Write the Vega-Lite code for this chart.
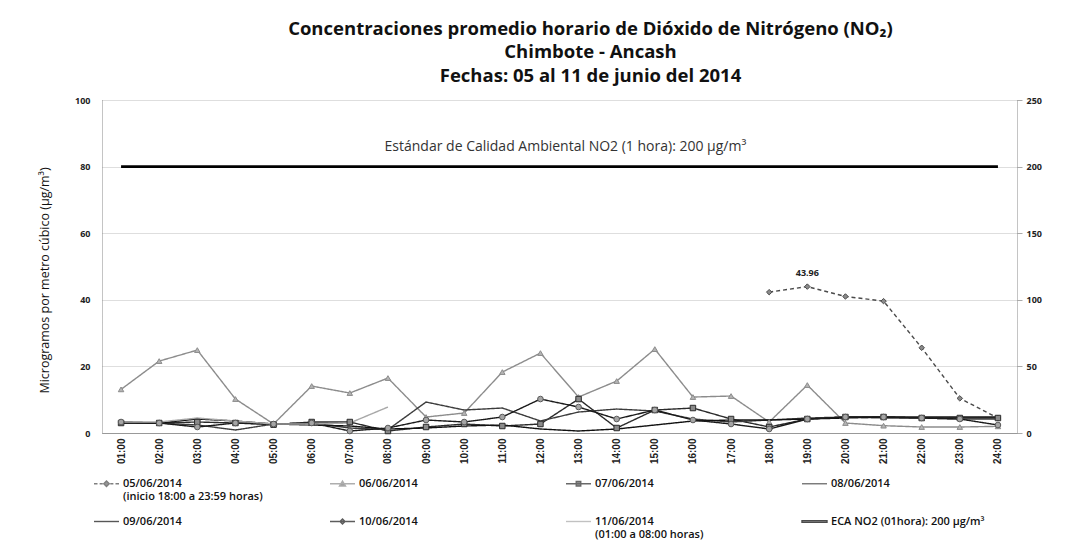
{
  "$schema": "https://vega.github.io/schema/vega-lite/v6.json",
  "autosize": {"type": "none"},
  "padding": {"left": 102, "top": 100, "right": 69, "bottom": 111},
  "width": 915,
  "height": 333,
  "background": "white",
  "config": {"view": {"stroke": null}, "font": "Open Sans"},
  "title": {
    "text": ["Concentraciones promedio horario de Dióxido de Nitrógeno (NO₂)", "Chimbote - Ancash", "Fechas: 05 al 11 de junio del 2014"],
    "anchor": "middle", "dx": 31, "font": "Open Sans", "fontSize": 18.5, "fontWeight": "bold", "lineHeight": 23.5, "offset": 11, "color": "#111"
  },
  "datasets": {
    "main": [
      {"h": "18:00", "s": "05/06/2014|(inicio 18:00 a 23:59 horas)", "v": 42.3},
      {"h": "19:00", "s": "05/06/2014|(inicio 18:00 a 23:59 horas)", "v": 43.96},
      {"h": "20:00", "s": "05/06/2014|(inicio 18:00 a 23:59 horas)", "v": 41.0},
      {"h": "21:00", "s": "05/06/2014|(inicio 18:00 a 23:59 horas)", "v": 39.6},
      {"h": "22:00", "s": "05/06/2014|(inicio 18:00 a 23:59 horas)", "v": 25.6},
      {"h": "23:00", "s": "05/06/2014|(inicio 18:00 a 23:59 horas)", "v": 10.4},
      {"h": "24:00", "s": "05/06/2014|(inicio 18:00 a 23:59 horas)", "v": 4.5},

      {"h": "01:00", "s": "06/06/2014", "v": 13.1},
      {"h": "02:00", "s": "06/06/2014", "v": 21.6},
      {"h": "03:00", "s": "06/06/2014", "v": 24.9},
      {"h": "04:00", "s": "06/06/2014", "v": 10.2},
      {"h": "05:00", "s": "06/06/2014", "v": 2.7},
      {"h": "06:00", "s": "06/06/2014", "v": 14.1},
      {"h": "07:00", "s": "06/06/2014", "v": 12.0},
      {"h": "08:00", "s": "06/06/2014", "v": 16.5},
      {"h": "09:00", "s": "06/06/2014", "v": 4.8},
      {"h": "10:00", "s": "06/06/2014", "v": 6.0},
      {"h": "11:00", "s": "06/06/2014", "v": 18.3},
      {"h": "12:00", "s": "06/06/2014", "v": 24.0},
      {"h": "13:00", "s": "06/06/2014", "v": 10.8},
      {"h": "14:00", "s": "06/06/2014", "v": 15.6},
      {"h": "15:00", "s": "06/06/2014", "v": 25.2},
      {"h": "16:00", "s": "06/06/2014", "v": 10.8},
      {"h": "17:00", "s": "06/06/2014", "v": 11.1},
      {"h": "18:00", "s": "06/06/2014", "v": 3.3},
      {"h": "19:00", "s": "06/06/2014", "v": 14.4},
      {"h": "20:00", "s": "06/06/2014", "v": 3.0},
      {"h": "21:00", "s": "06/06/2014", "v": 2.2},
      {"h": "22:00", "s": "06/06/2014", "v": 1.8},
      {"h": "23:00", "s": "06/06/2014", "v": 1.8},
      {"h": "24:00", "s": "06/06/2014", "v": 2.0},

      {"h": "01:00", "s": "07/06/2014", "v": 3.0},
      {"h": "02:00", "s": "07/06/2014", "v": 3.0},
      {"h": "03:00", "s": "07/06/2014", "v": 3.3},
      {"h": "04:00", "s": "07/06/2014", "v": 3.0},
      {"h": "05:00", "s": "07/06/2014", "v": 2.5},
      {"h": "06:00", "s": "07/06/2014", "v": 3.3},
      {"h": "07:00", "s": "07/06/2014", "v": 3.3},
      {"h": "08:00", "s": "07/06/2014", "v": 0.6},
      {"h": "09:00", "s": "07/06/2014", "v": 1.8},
      {"h": "10:00", "s": "07/06/2014", "v": 2.7},
      {"h": "11:00", "s": "07/06/2014", "v": 2.1},
      {"h": "12:00", "s": "07/06/2014", "v": 2.7},
      {"h": "13:00", "s": "07/06/2014", "v": 10.2},
      {"h": "14:00", "s": "07/06/2014", "v": 1.5},
      {"h": "15:00", "s": "07/06/2014", "v": 6.9},
      {"h": "16:00", "s": "07/06/2014", "v": 7.5},
      {"h": "17:00", "s": "07/06/2014", "v": 4.2},
      {"h": "18:00", "s": "07/06/2014", "v": 1.8},
      {"h": "19:00", "s": "07/06/2014", "v": 4.2},
      {"h": "20:00", "s": "07/06/2014", "v": 4.8},
      {"h": "21:00", "s": "07/06/2014", "v": 4.8},
      {"h": "22:00", "s": "07/06/2014", "v": 4.5},
      {"h": "23:00", "s": "07/06/2014", "v": 4.5},
      {"h": "24:00", "s": "07/06/2014", "v": 4.5},

      {"h": "01:00", "s": "08/06/2014", "v": 3.3},
      {"h": "02:00", "s": "08/06/2014", "v": 3.0},
      {"h": "03:00", "s": "08/06/2014", "v": 2.4},
      {"h": "04:00", "s": "08/06/2014", "v": 0.9},
      {"h": "05:00", "s": "08/06/2014", "v": 2.7},
      {"h": "06:00", "s": "08/06/2014", "v": 3.0},
      {"h": "07:00", "s": "08/06/2014", "v": 1.5},
      {"h": "08:00", "s": "08/06/2014", "v": 1.0},
      {"h": "09:00", "s": "08/06/2014", "v": 9.3},
      {"h": "10:00", "s": "08/06/2014", "v": 6.9},
      {"h": "11:00", "s": "08/06/2014", "v": 7.5},
      {"h": "12:00", "s": "08/06/2014", "v": 3.6},
      {"h": "13:00", "s": "08/06/2014", "v": 6.3},
      {"h": "14:00", "s": "08/06/2014", "v": 7.2},
      {"h": "15:00", "s": "08/06/2014", "v": 6.6},
      {"h": "16:00", "s": "08/06/2014", "v": 4.2},
      {"h": "17:00", "s": "08/06/2014", "v": 3.3},
      {"h": "18:00", "s": "08/06/2014", "v": 3.9},
      {"h": "19:00", "s": "08/06/2014", "v": 4.5},
      {"h": "20:00", "s": "08/06/2014", "v": 4.8},
      {"h": "21:00", "s": "08/06/2014", "v": 4.5},
      {"h": "22:00", "s": "08/06/2014", "v": 4.5},
      {"h": "23:00", "s": "08/06/2014", "v": 4.2},
      {"h": "24:00", "s": "08/06/2014", "v": 4.2},

      {"h": "01:00", "s": "09/06/2014", "v": 3.0},
      {"h": "02:00", "s": "09/06/2014", "v": 3.0},
      {"h": "03:00", "s": "09/06/2014", "v": 4.2},
      {"h": "04:00", "s": "09/06/2014", "v": 3.6},
      {"h": "05:00", "s": "09/06/2014", "v": 2.7},
      {"h": "06:00", "s": "09/06/2014", "v": 2.4},
      {"h": "07:00", "s": "09/06/2014", "v": 2.1},
      {"h": "08:00", "s": "09/06/2014", "v": 1.2},
      {"h": "09:00", "s": "09/06/2014", "v": 1.5},
      {"h": "10:00", "s": "09/06/2014", "v": 2.1},
      {"h": "11:00", "s": "09/06/2014", "v": 2.4},
      {"h": "12:00", "s": "09/06/2014", "v": 1.2},
      {"h": "13:00", "s": "09/06/2014", "v": 0.6},
      {"h": "14:00", "s": "09/06/2014", "v": 1.2},
      {"h": "15:00", "s": "09/06/2014", "v": 2.4},
      {"h": "16:00", "s": "09/06/2014", "v": 3.6},
      {"h": "17:00", "s": "09/06/2014", "v": 3.9},
      {"h": "18:00", "s": "09/06/2014", "v": 3.9},
      {"h": "19:00", "s": "09/06/2014", "v": 4.2},
      {"h": "20:00", "s": "09/06/2014", "v": 4.5},
      {"h": "21:00", "s": "09/06/2014", "v": 4.8},
      {"h": "22:00", "s": "09/06/2014", "v": 4.8},
      {"h": "23:00", "s": "09/06/2014", "v": 4.8},
      {"h": "24:00", "s": "09/06/2014", "v": 4.8},

      {"h": "01:00", "s": "10/06/2014", "v": 3.3},
      {"h": "02:00", "s": "10/06/2014", "v": 3.0},
      {"h": "03:00", "s": "10/06/2014", "v": 1.8},
      {"h": "04:00", "s": "10/06/2014", "v": 3.0},
      {"h": "05:00", "s": "10/06/2014", "v": 2.7},
      {"h": "06:00", "s": "10/06/2014", "v": 3.0},
      {"h": "07:00", "s": "10/06/2014", "v": 0.6},
      {"h": "08:00", "s": "10/06/2014", "v": 1.5},
      {"h": "09:00", "s": "10/06/2014", "v": 3.9},
      {"h": "10:00", "s": "10/06/2014", "v": 3.3},
      {"h": "11:00", "s": "10/06/2014", "v": 4.8},
      {"h": "12:00", "s": "10/06/2014", "v": 10.2},
      {"h": "13:00", "s": "10/06/2014", "v": 7.8},
      {"h": "14:00", "s": "10/06/2014", "v": 4.2},
      {"h": "15:00", "s": "10/06/2014", "v": 6.9},
      {"h": "16:00", "s": "10/06/2014", "v": 3.9},
      {"h": "17:00", "s": "10/06/2014", "v": 2.7},
      {"h": "18:00", "s": "10/06/2014", "v": 1.2},
      {"h": "19:00", "s": "10/06/2014", "v": 4.2},
      {"h": "20:00", "s": "10/06/2014", "v": 4.8},
      {"h": "21:00", "s": "10/06/2014", "v": 4.8},
      {"h": "22:00", "s": "10/06/2014", "v": 4.5},
      {"h": "23:00", "s": "10/06/2014", "v": 4.2},
      {"h": "24:00", "s": "10/06/2014", "v": 2.4},

      {"h": "01:00", "s": "11/06/2014|(01:00 a 08:00 horas)", "v": 3.3},
      {"h": "02:00", "s": "11/06/2014|(01:00 a 08:00 horas)", "v": 3.3},
      {"h": "03:00", "s": "11/06/2014|(01:00 a 08:00 horas)", "v": 4.5},
      {"h": "04:00", "s": "11/06/2014|(01:00 a 08:00 horas)", "v": 3.6},
      {"h": "05:00", "s": "11/06/2014|(01:00 a 08:00 horas)", "v": 2.7},
      {"h": "06:00", "s": "11/06/2014|(01:00 a 08:00 horas)", "v": 2.7},
      {"h": "07:00", "s": "11/06/2014|(01:00 a 08:00 horas)", "v": 3.0},
      {"h": "08:00", "s": "11/06/2014|(01:00 a 08:00 horas)", "v": 7.8},

      {"h": "01:00", "s": "ECA NO2 (01hora): 200 µg/m³", "v": 200},
      {"h": "02:00", "s": "ECA NO2 (01hora): 200 µg/m³", "v": 200},
      {"h": "03:00", "s": "ECA NO2 (01hora): 200 µg/m³", "v": 200},
      {"h": "04:00", "s": "ECA NO2 (01hora): 200 µg/m³", "v": 200},
      {"h": "05:00", "s": "ECA NO2 (01hora): 200 µg/m³", "v": 200},
      {"h": "06:00", "s": "ECA NO2 (01hora): 200 µg/m³", "v": 200},
      {"h": "07:00", "s": "ECA NO2 (01hora): 200 µg/m³", "v": 200},
      {"h": "08:00", "s": "ECA NO2 (01hora): 200 µg/m³", "v": 200},
      {"h": "09:00", "s": "ECA NO2 (01hora): 200 µg/m³", "v": 200},
      {"h": "10:00", "s": "ECA NO2 (01hora): 200 µg/m³", "v": 200},
      {"h": "11:00", "s": "ECA NO2 (01hora): 200 µg/m³", "v": 200},
      {"h": "12:00", "s": "ECA NO2 (01hora): 200 µg/m³", "v": 200},
      {"h": "13:00", "s": "ECA NO2 (01hora): 200 µg/m³", "v": 200},
      {"h": "14:00", "s": "ECA NO2 (01hora): 200 µg/m³", "v": 200},
      {"h": "15:00", "s": "ECA NO2 (01hora): 200 µg/m³", "v": 200},
      {"h": "16:00", "s": "ECA NO2 (01hora): 200 µg/m³", "v": 200},
      {"h": "17:00", "s": "ECA NO2 (01hora): 200 µg/m³", "v": 200},
      {"h": "18:00", "s": "ECA NO2 (01hora): 200 µg/m³", "v": 200},
      {"h": "19:00", "s": "ECA NO2 (01hora): 200 µg/m³", "v": 200},
      {"h": "20:00", "s": "ECA NO2 (01hora): 200 µg/m³", "v": 200},
      {"h": "21:00", "s": "ECA NO2 (01hora): 200 µg/m³", "v": 200},
      {"h": "22:00", "s": "ECA NO2 (01hora): 200 µg/m³", "v": 200},
      {"h": "23:00", "s": "ECA NO2 (01hora): 200 µg/m³", "v": 200},
      {"h": "24:00", "s": "ECA NO2 (01hora): 200 µg/m³", "v": 200}
    ]
  },
  "data": {"name": "main"},
  "layer": [
    {
      "layer": [
        {
          "transform": [{"filter": "indexof(datum.s, 'ECA') < 0"}],
          "mark": {"type": "line", "strokeWidth": 1.4},
          "encoding": {
            "x": {
              "field": "h", "type": "ordinal", "scale": {"type": "point", "padding": 0.5},
              "axis": {"title": null, "labelAngle": -90, "labelFont": "Liberation Sans", "labelFontSize": 10, "labelFontWeight": "bold", "labelColor": "#222", "labelPadding": 5, "ticks": false, "domainColor": "#999", "grid": false}
            },
            "y": {
              "field": "v", "type": "quantitative", "scale": {"domain": [0, 100]},
              "axis": {
                "title": "Microgramos por metro cúbico (µg/m³)", "titleFont": "Open Sans", "titleFontSize": 12.5, "titleFontWeight": "normal", "titleColor": "#111", "titlePadding": 23, "titleY": 180,
                "values": [0, 20, 40, 60, 80, 100], "labelFont": "Open Sans", "labelFontSize": 9, "labelFontWeight": "bold", "labelColor": "#222", "labelPadding": 12, "ticks": false,
                "domainColor": "#888", "domainDash": [1, 1], "grid": true, "gridColor": "#bdbdbd", "gridDash": [1, 1]
              }
            },
            "stroke": {
              "field": "s", "type": "nominal", "legend": null,
              "scale": {
                "domain": ["05/06/2014|(inicio 18:00 a 23:59 horas)", "06/06/2014", "07/06/2014", "08/06/2014", "09/06/2014", "10/06/2014", "11/06/2014|(01:00 a 08:00 horas)"],
                "range": ["#4a4a4a", "#8c8c8c", "#2b2b2b", "#3c3c3c", "#111111", "#1a1a1a", "#a8a8a8"]
              }
            },
            "strokeDash": {
              "field": "s", "type": "nominal", "legend": null,
              "scale": {
                "domain": ["05/06/2014|(inicio 18:00 a 23:59 horas)", "06/06/2014", "07/06/2014", "08/06/2014", "09/06/2014", "10/06/2014", "11/06/2014|(01:00 a 08:00 horas)"],
                "range": [[4, 3], [1, 0], [1, 0], [1, 0], [1, 0], [1, 0], [1, 0]]
              }
            }
          }
        },
        {
          "transform": [{"filter": "indexof(datum.s, '05/06') == 0"}],
          "mark": {"type": "point", "shape": "diamond", "filled": true, "fill": "#8a8a8a", "stroke": "#4a4a4a", "size": 30, "strokeWidth": 1, "opacity": 1},
          "encoding": {"x": {"field": "h", "type": "ordinal"}, "y": {"field": "v", "type": "quantitative"}}
        },
        {
          "transform": [{"filter": "datum.s == '06/06/2014'"}],
          "mark": {"type": "point", "shape": "triangle-up", "filled": true, "fill": "#b5b5b5", "stroke": "#8c8c8c", "size": 30, "strokeWidth": 1, "opacity": 1},
          "encoding": {"x": {"field": "h", "type": "ordinal"}, "y": {"field": "v", "type": "quantitative"}}
        },
        {
          "transform": [{"filter": "datum.s == '07/06/2014'"}],
          "mark": {"type": "point", "shape": "square", "filled": true, "fill": "#8a8a8a", "stroke": "#2b2b2b", "size": 30, "strokeWidth": 1, "opacity": 1},
          "encoding": {"x": {"field": "h", "type": "ordinal"}, "y": {"field": "v", "type": "quantitative"}}
        },
        {
          "transform": [{"filter": "datum.s == '10/06/2014'"}],
          "mark": {"type": "point", "shape": "circle", "filled": true, "fill": "#a5a5a5", "stroke": "#5a5a5a", "size": 32, "strokeWidth": 1, "opacity": 1},
          "encoding": {"x": {"field": "h", "type": "ordinal"}, "y": {"field": "v", "type": "quantitative"}}
        },
        {
          "transform": [{"filter": "datum.h == '19:00' && indexof(datum.s, '05/06') == 0"}],
          "mark": {"type": "text", "dy": -14, "font": "Open Sans", "fontSize": 9, "fontWeight": "bold", "color": "#222"},
          "encoding": {
            "x": {"field": "h", "type": "ordinal"},
            "y": {"field": "v", "type": "quantitative"},
            "text": {"field": "v", "type": "quantitative", "format": ".2f"}
          }
        },
        {
          "data": {"values": [{"h": "12:00", "v": 86, "t": "Estándar de Calidad Ambiental  NO2 (1 hora): 200 µg/m³"}]},
          "mark": {"type": "text", "dx": 25, "font": "Open Sans", "fontSize": 14, "color": "#333"},
          "encoding": {
            "x": {"field": "h", "type": "ordinal"},
            "y": {"field": "v", "type": "quantitative"},
            "text": {"field": "t"}
          }
        },
        {
          "transform": [{"filter": "datum.v < -1"}],
          "mark": {"type": "point", "filled": false, "fill": "#6a6a6a", "strokeWidth": 1.4},
          "encoding": {
            "color": {
              "field": "s", "type": "nominal",
              "scale": {
                "domain": ["05/06/2014|(inicio 18:00 a 23:59 horas)", "06/06/2014", "07/06/2014", "08/06/2014", "09/06/2014", "10/06/2014", "11/06/2014|(01:00 a 08:00 horas)", "ECA NO2 (01hora): 200 µg/m³"],
                "range": ["#4a4a4a", "#8c8c8c", "#2b2b2b", "#3c3c3c", "#111111", "#1a1a1a", "#a8a8a8", "#000000"]
              },
              "legend": {"title": null, "orient": "none", "legendX": -9, "legendY": 370, "direction": "horizontal", "columns": 4, "gridAlign": "all", "columnPadding": 50, "rowPadding": 6, "symbolSize": 625, "symbolStrokeWidth": 1.4, "labelFont": "Open Sans", "labelFontSize": 11, "labelFontWeight": 600, "labelColor": "#111", "labelOffset": 3, "labelLimit": 400, "labelExpr": "indexof(datum.label, '|') >= 0 ? split(datum.label, '|') : [datum.label, ' ']"}
            },
            "shape": {
              "field": "s", "type": "nominal",
              "scale": {
                "domain": ["05/06/2014|(inicio 18:00 a 23:59 horas)", "06/06/2014", "07/06/2014", "08/06/2014", "09/06/2014", "10/06/2014", "11/06/2014|(01:00 a 08:00 horas)", "ECA NO2 (01hora): 200 µg/m³"],
                "range": [
                  "M-1,0H-0.72M-0.55,0H-0.3M0.3,0H0.55M0.72,0H1M0,-0.22L0.22,0L0,0.22L-0.22,0Z",
                  "M-1,0H1M0,-0.22L0.24,0.18H-0.24Z",
                  "M-1,0H1M-0.18,-0.18H0.18V0.18H-0.18Z",
                  "M-1,0H1",
                  "M-1,0H1",
                  "M-1,0H1M0,-0.2L0.2,0L0,0.2L-0.2,0Z",
                  "M-1,0H1",
                  "M-1,-0.07H1V0.07H-1Z"
                ]
              },
              "legend": {"title": null, "orient": "none", "legendX": -9, "legendY": 370, "direction": "horizontal", "columns": 4, "gridAlign": "all", "columnPadding": 50, "rowPadding": 6, "symbolSize": 625, "symbolStrokeWidth": 1.4, "labelFont": "Open Sans", "labelFontSize": 11, "labelFontWeight": 600, "labelColor": "#111", "labelOffset": 3, "labelLimit": 400, "labelExpr": "indexof(datum.label, '|') >= 0 ? split(datum.label, '|') : [datum.label, ' ']"}
            }
          }
        }
      ]
    },
    {
      "transform": [{"filter": "indexof(datum.s, 'ECA') >= 0"}],
      "mark": {"type": "line", "color": "#000000", "strokeWidth": 2.6},
      "encoding": {
        "x": {"field": "h", "type": "ordinal"},
        "y": {
          "field": "v", "type": "quantitative", "scale": {"domain": [0, 250]},
          "axis": {"orient": "right", "title": null, "values": [0, 50, 100, 150, 200, 250], "labelFont": "Open Sans", "labelFontSize": 9, "labelFontWeight": "bold", "labelColor": "#222", "labelPadding": 4, "tickSize": 5, "tickColor": "#aaa", "domainColor": "#888", "domainDash": [1, 1], "grid": false}
        }
      }
    }
  ],
  "resolve": {"scale": {"y": "independent"}}
}
